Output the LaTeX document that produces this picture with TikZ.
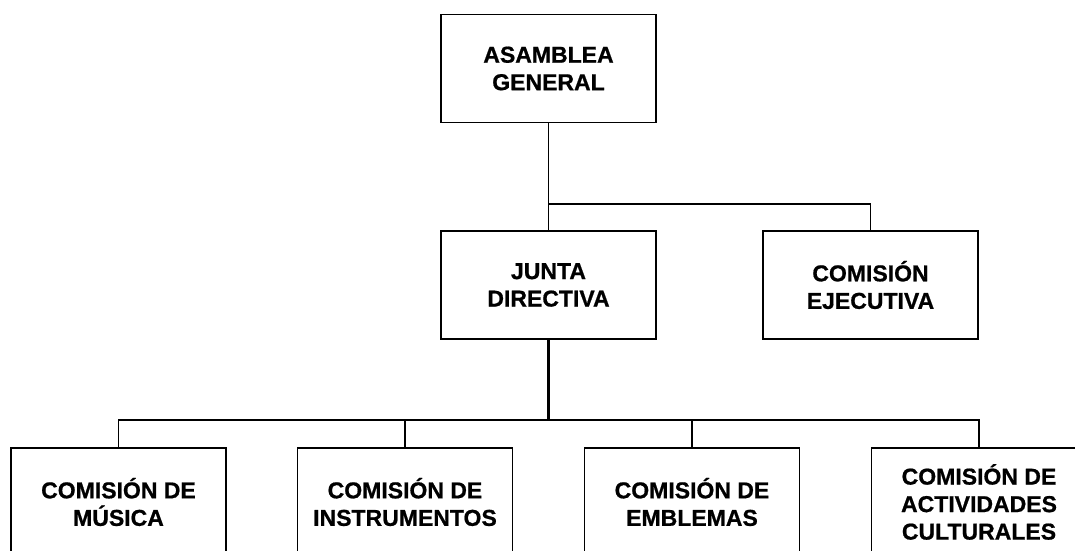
\documentclass[tikz,border=0pt]{standalone}
\usepackage{fontspec}
\setmainfont{Liberation Sans}[BoldFont={Liberation Sans Bold},BoldFeatures={FakeBold=0.8}]
\begin{document}
\begin{tikzpicture}[x=1pt,y=-1pt,
  box/.style={draw, line width=1.8pt, minimum width=215pt, minimum height=108pt,
    align=center, inner sep=0pt, font=\fontsize{23}{27.5}\selectfont\bfseries},
  conn/.style={line width=1.8pt},
  trunk/.style={line width=2.8pt}]
\useasboundingbox (0,0) rectangle (1075,550);
\clip (0,0) rectangle (1075,550);
\fill[white] (0,0) rectangle (1075,550);
\node[box] (ag) at (548.5,68.5) {ASAMBLEA\\GENERAL};
\node[box] (jd) at (548.5,285) {JUNTA\\DIRECTIVA};
\node[box] (ce) at (870.5,285) {COMISIÓN\\EJECUTIVA};
\node[box] (mu) at (118.5,502) {COMISIÓN DE\\MÚSICA};
\node[box] (in) at (405,502) {COMISIÓN DE\\INSTRUMENTOS};
\node[box] (em) at (692,502) {COMISIÓN DE\\EMBLEMAS};
\node[box] (ac) at (979,502) {COMISIÓN DE\\ACTIVIDADES\\CULTURALES};
\coordinate (j1) at (548.5,204);
\coordinate (j2) at (548.5,420);
\draw[conn] (ag.south) -- (jd.north);
\draw[conn] (j1) -| (ce.north);
\draw[trunk] (jd.south) -- (j2);
\draw[conn] (mu.north) -- (mu.north |- j2) -- (ac.north |- j2) -- (ac.north);
\draw[conn] (in.north) -- (in.north |- j2);
\draw[conn] (em.north) -- (em.north |- j2);
\end{tikzpicture}
\end{document}
